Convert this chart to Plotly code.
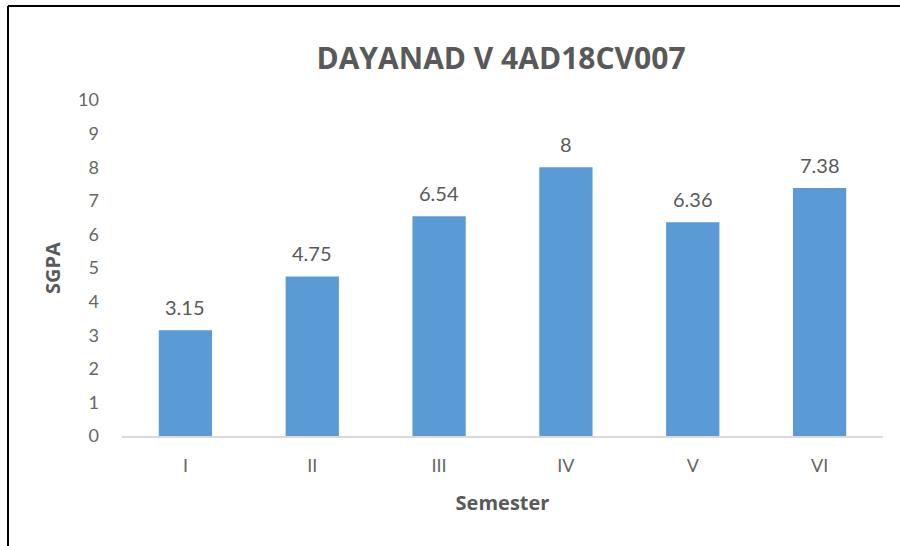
import plotly.graph_objects as go

semesters = ["I", "II", "III", "IV", "V", "VI"]
sgpa = [3.15, 4.75, 6.54, 8, 6.36, 7.38]
y_ticks = list(range(0, 11))

W, H = 900, 546
ML, MR, MT, MB = 122, 17, 100, 110
PW, PH = W - ML - MR, H - MT - MB

def px_to_paper_x(px):
    return (px - ML) / PW

def px_to_paper_y(py):
    return (H - MB - py) / PH

fig = go.Figure()
fig.add_trace(go.Bar(
    x=semesters, y=sgpa,
    marker=dict(color="#5B9BD5", line=dict(width=0)),
    hoverinfo="x+y",
))

for s, v in zip(semesters, sgpa):
    fig.add_annotation(
        x=s, y=v, text=f"{v:g}", showarrow=False,
        yanchor="middle", yshift=23,
        font=dict(family="Lato", size=20, color="#595959"),
    )

# frame lines on the left and top of the chart area
fig.add_shape(type="line", xref="paper", yref="paper",
              x0=px_to_paper_x(8), x1=px_to_paper_x(8),
              y0=px_to_paper_y(6), y1=px_to_paper_y(560),
              line=dict(color="black", width=2))
fig.add_shape(type="line", xref="paper", yref="paper",
              x0=px_to_paper_x(8), x1=px_to_paper_x(910),
              y0=px_to_paper_y(6), y1=px_to_paper_y(6),
              line=dict(color="black", width=2))

fig.update_layout(
    width=W, height=H,
    margin=dict(l=ML, r=MR, t=MT, b=MB, pad=0),
    paper_bgcolor="white", plot_bgcolor="white",
    bargap=0.58,
    showlegend=False,
    title=dict(
        text="<b>DAYANAD V 4AD18CV007</b>",
        x=501 / W, xanchor="center", y=1 - 58 / H, yanchor="middle",
        font=dict(family="Open Sans", size=30, color="#595959"),
    ),
    xaxis=dict(
        showgrid=False, showline=True, linecolor="#D9D9D9", linewidth=2,
        ticks="", tickfont=dict(family="Lato", size=18, color="#666666"),
        ticklabelstandoff=12,
        title=dict(text="<b>Semester</b>", standoff=21,
                   font=dict(family="Open Sans", size=20, color="#595959")),
    ),
    yaxis=dict(
        range=[0, 10], tickvals=y_ticks, showgrid=False, zeroline=False,
        showline=False, ticks="",
        tickfont=dict(family="Lato", size=18, color="#666666"),
        ticklabelstandoff=22,
        title=dict(text="<b>SGPA</b>", standoff=12,
                   font=dict(family="Open Sans", size=20, color="#595959")),
    ),
)

fig.write_html("out.html")
